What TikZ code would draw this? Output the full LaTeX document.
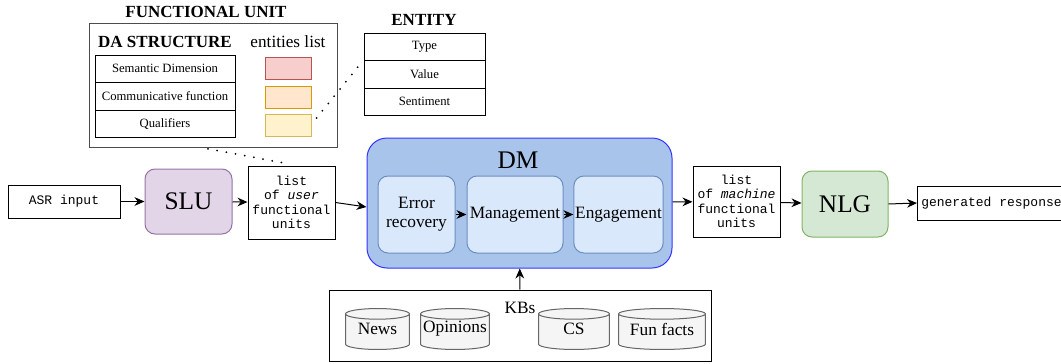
\documentclass[tikz,border=0pt]{standalone}
\usepackage{fontspec}
\setmainfont{Liberation Serif}
\setmonofont{Liberation Mono}
\usetikzlibrary{calc}
\usetikzlibrary{arrows.meta}

\definecolor{slufill}{HTML}{E1D5E7}
\definecolor{sludraw}{HTML}{9673A6}
\definecolor{nlgfill}{HTML}{D5E8D4}
\definecolor{nlgdraw}{HTML}{82B366}
\definecolor{dmfill}{HTML}{A9C4EB}
\definecolor{dmdraw}{HTML}{3333FF}
\definecolor{subfill}{HTML}{DAE8FC}
\definecolor{subdraw}{HTML}{6C8EBF}
\definecolor{kbfill}{HTML}{F5F5F5}
\definecolor{kbdraw}{HTML}{666666}
\definecolor{redfill}{HTML}{F8CECC}
\definecolor{reddraw}{HTML}{B85450}
\definecolor{orangefill}{HTML}{FFE6CC}
\definecolor{orangedraw}{HTML}{D79B00}
\definecolor{yellowfill}{HTML}{FFF2CC}
\definecolor{yellowdraw}{HTML}{D6B656}

\tikzset{
  >={Stealth[length=7.5pt,width=6.5pt]},
  every node/.style={inner sep=1pt},
  title/.style={font=\fontsize{12.75}{14}\selectfont\bfseries},
  cell/.style={draw, rectangle, font=\fontsize{9.5}{11}\selectfont},
  mono/.style={draw, rectangle, font=\fontsize{9.75}{10.9}\selectfont\ttfamily, align=center},
  kb/.style={rectangle, fill=white, minimum height=31.5pt, font=\fontsize{13}{15}\selectfont,
    path picture={
      \path[draw=kbdraw, fill=kbfill, line width=0.75pt]
        let \p1=(path picture bounding box.south west), \p2=(path picture bounding box.north east),
            \n1={(\x2-\x1)/2-0.4pt} in
        (\x1+0.4pt,\y2-4.4pt) -- (\x1+0.4pt,\y1+4.4pt)
        arc[start angle=180, end angle=360, x radius=\n1, y radius=4pt]
        -- (\x2-0.4pt,\y2-4.4pt)
        arc[start angle=0, end angle=180, x radius=\n1, y radius=4pt] -- cycle
        (\x1+0.4pt,\y2-4.4pt)
        arc[start angle=180, end angle=360, x radius=\n1, y radius=4pt];
    }},
}

\begin{document}
\begin{tikzpicture}[x=0.75pt, y=-0.75pt, line width=0.75pt]
\useasboundingbox (0,0) rectangle (1061,364);

\node[title] (FU_T) at (206,12) {FUNCTIONAL UNIT};
\node[draw=black!70, minimum width=186pt, minimum height=93pt] (FU) at (213,85) {};
\node[title] (DA_T) at (165,42) {DA STRUCTURE};
\node[font=\fontsize{12.9}{14}\selectfont] (EL_T) at (288,42) {entities list};

\begin{scope}[minimum width=105pt, minimum height=20.625pt]
  \node[cell] (DA_A) at (165, 68.75) {Semantic Dimension};
  \node[cell] (DA_B) at (165, 96.25) {Communicative function};
  \node[cell] (DA_C) at (165,123.75) {Qualifiers};
\end{scope}

\begin{scope}[minimum width=34.5pt, minimum height=16.5pt]
  \node[draw=reddraw,    fill=redfill]    (EL_A) at (288, 68) {};
  \node[draw=orangedraw, fill=orangefill] (EL_B) at (288, 97) {};
  \node[draw=yellowdraw, fill=yellowfill] (EL_C) at (288,125) {};
\end{scope}

\node[title] (ET_T) at (424,20) {ENTITY};
\begin{scope}[minimum width=90.75pt, minimum height=20.625pt]
  \node[cell] (ET_A) at (424.5, 46.75) {Type};
  \node[cell] (ET_B) at (424.5, 74.25) {Value};
  \node[cell] (ET_C) at (424.5,101.75) {Sentiment};
\end{scope}

\node[mono, minimum width=84pt, minimum height=24.75pt] (ASR) at (64,201.5) {ASR input};
\node[draw=sludraw, fill=slufill, rounded corners=7.5pt, minimum width=65.25pt, minimum height=48.75pt,
  font=\fontsize{19}{21}\selectfont] (SLU) at (188.5,201.5) {SLU};
\node[mono, minimum width=65.25pt, minimum height=54.75pt] (UL) at (291.5,202.5)
  {list\\of \textit{user}\\functional\\units};

\begin{scope}[line width=1.5pt, line cap=round, dash pattern=on 0pt off 7pt]
\path ([xshift=3.75pt,yshift=5.25pt]EL_C.east) edge (ET_B.north west);
\path ([xshift=-3.75pt,yshift=-1pt]FU.south) edge ([xshift=-3.4pt,yshift=1.5pt]UL.north);
\end{scope}

\node[draw=dmdraw, fill=dmfill, rounded corners=15pt, minimum width=228.75pt, minimum height=97.5pt] (DM) at (519.5,203) {};
\node[font=\fontsize{19}{21}\selectfont] (DM_T) at (518,160) {DM};
\begin{scope}[draw=subdraw, fill=subfill, rounded corners=7.5pt, minimum height=57.75pt,
  font=\fontsize{13}{14.5}\selectfont, align=center]
  \node[draw, fill, minimum width=57.75pt] (ER) at (416.5,214.5) {Error\\recovery};
  \node[draw, fill, minimum width=72pt]    (MG) at (515,214.5)   {Management};
  \node[draw, fill, minimum width=66.75pt] (EG) at (618.5,214.5) {Engagement};
\end{scope}

\node[mono, minimum width=65.25pt, minimum height=53.25pt] (ML) at (736.5,201.5)
  {list\\of \textit{machine}\\functional\\units};
\node[draw=nlgdraw, fill=nlgfill, rounded corners=7.5pt, minimum width=64.5pt, minimum height=49.5pt,
  font=\fontsize{19}{21}\selectfont] (NLG) at (845,204) {NLG};
\node[mono, anchor=west, inner xsep=2pt, minimum width=111pt, minimum height=25.5pt] (GR) at (917,203) {generated response};

\node[draw, minimum width=286.5pt, minimum height=53.25pt] (KB) at (520,325.5) {};
\node[font=\fontsize{13}{15}\selectfont] (KB_T) at (520,308) {KBs};
\node[kb, minimum width=48.75pt] (KB_A) at (377.5,329) {News};
\node[kb, minimum width=52.5pt]  (KB_B) at (455,329)   {Opinions};
\node[kb, minimum width=54pt]    (KB_C) at (574,329)   {CS};
\node[kb, minimum width=66pt]    (KB_D) at (662,329)   {Fun facts};

\path[->] (ASR) edge (SLU);
\path[->] (SLU) edge (UL);
\path[->] (UL.east) edge ([yshift=-3pt]DM.west);
\path[->] (ER) edge (MG);
\path[->] (MG) edge (EG);
\path[->] (DM) edge (ML);
\path[->] (ML) edge (NLG);
\path[->] (NLG.east) edge (GR.west);
\path[->] (KB) edge (DM);

\end{tikzpicture}
\end{document}
